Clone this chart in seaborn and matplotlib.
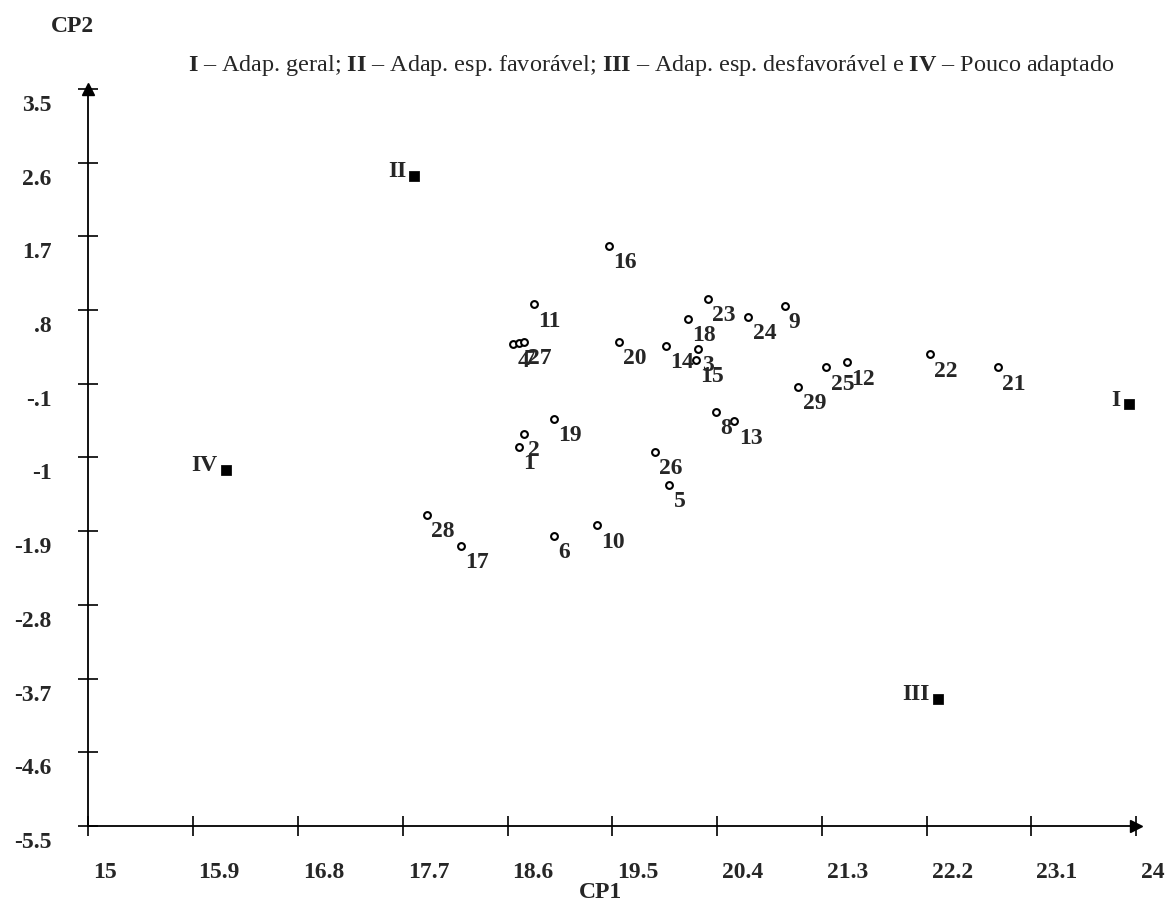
import numpy as np
import pandas as pd
import seaborn as sns
import matplotlib.pyplot as plt
from matplotlib.transforms import ScaledTranslation

# genotype scores on the two principal components
genotipos = [str(i) for i in range(1, 30)]
cp1 = [18.70, 18.74, 20.24, 18.65, 19.99, 19.00, 18.70, 20.39, 20.98, 19.37,
       18.83, 21.52, 20.55, 19.96, 20.22, 19.47, 18.20, 20.15, 19.00, 19.56,
       22.81, 22.23, 20.32, 20.67, 21.34, 19.87, 18.74, 17.91, 21.10]
cp2 = [-0.87, -0.71, 0.33, 0.38, -1.33, -1.96, 0.40, -0.44, 0.85, -1.83,
       0.87, 0.16, -0.56, 0.36, 0.19, 1.58, -2.08, 0.69, -0.53, 0.41,
       0.10, 0.26, 0.94, 0.72, 0.10, -0.93, 0.41, -1.70, -0.14]

# ideal (reference) genotypes
ideais = ['I', 'II', 'III', 'IV']
ideal_cp1 = [23.94, 17.80, 22.30, 16.18]
ideal_cp2 = [-0.35, 2.44, -3.95, -1.15]

xticks = [15, 15.9, 16.8, 17.7, 18.6, 19.5, 20.4, 21.3, 22.2, 23.1, 24]
xtick_labels = ['15', '15.9', '16.8', '17.7', '18.6', '19.5', '20.4', '21.3', '22.2', '23.1', '24']
yticks = [3.5, 2.6, 1.7, 0.8, -0.1, -1, -1.9, -2.8, -3.7, -4.6, -5.5]
ytick_labels = ['3.5', '2.6', '1.7', '.8', '-.1', '-1', '-1.9', '-2.8', '-3.7', '-4.6', '-5.5']

df = pd.DataFrame({'gen': genotipos, 'CP1': cp1, 'CP2': cp2})
df_ideal = pd.DataFrame({'gen': ideais, 'CP1': ideal_cp1, 'CP2': ideal_cp2})

sns.set_style('white')
plt.rcParams['font.family'] = ['Liberation Serif', 'DejaVu Serif']
plt.rcParams['mathtext.fontset'] = 'custom'
plt.rcParams['mathtext.rm'] = 'Liberation Serif'
plt.rcParams['mathtext.bf'] = 'Liberation Serif:bold'

fig = plt.figure(figsize=(11.69, 9.19), dpi=100)
ax = fig.add_axes([0.0757, 0.1012, 0.8961, 0.802])

sns.scatterplot(data=df, x='CP1', y='CP2', ax=ax, marker='o', s=24,
                facecolor='white', edgecolor='black', linewidth=1.5, zorder=3)
sns.scatterplot(data=df_ideal, x='CP1', y='CP2', ax=ax, marker='s', s=45,
                color='black', edgecolor='black', zorder=3)

for g, x, y in zip(df['gen'], df['CP1'], df['CP2']):
    ax.annotate(g, (x, y), xytext=(3, -16), textcoords='offset points',
                ha='left', va='baseline', fontsize=17, fontweight='bold')
for g, x, y in zip(df_ideal['gen'], df_ideal['CP1'], df_ideal['CP2']):
    ax.annotate(g, (x, y), xytext=(-6, 3), textcoords='offset points',
                ha='right', va='center', fontsize=17, fontweight='bold')

ax.set_xlim(15, 24)
ax.set_ylim(-5.5, 3.5)
ax.set_xticks(xticks)
ax.set_xticklabels(xtick_labels, fontsize=17, fontweight='bold', ha='left')
ax.set_yticks(yticks)
ax.set_yticklabels(ytick_labels, fontsize=17, fontweight='bold', va='top')
ax.tick_params(axis='both', direction='inout', length=15, width=1.2, color='black',
               bottom=True, left=True)
ax.tick_params(axis='x', pad=15)
ax.tick_params(axis='y', pad=19)
for lab in ax.get_xticklabels():
    lab.set_transform(lab.get_transform() + ScaledTranslation(0.05, -0.05, fig.dpi_scale_trans))
for lab in ax.get_yticklabels():
    lab.set_transform(lab.get_transform() + ScaledTranslation(0, -0.06, fig.dpi_scale_trans))
ax.set_xlabel('')
ax.set_ylabel('')

for side in ['top', 'right']:
    ax.spines[side].set_visible(False)
for side in ['left', 'bottom']:
    ax.spines[side].set_linewidth(1.3)
    ax.spines[side].set_color('black')

ax.plot(0, 1, marker='^', ms=8, color='black', transform=ax.transAxes, clip_on=False)
ax.plot(1, 0, marker='>', ms=8, color='black', transform=ax.transAxes, clip_on=False)

fig.text(72 / 1169, 1 - 26 / 919, 'CP2', ha='center', va='center', fontsize=17, fontweight='bold')
fig.text(600 / 1169, 1 - 893 / 919, 'CP1', ha='center', va='center', fontsize=17, fontweight='bold')

legenda = (r'$\mathbf{I}$ – Adap. geral; $\mathbf{II}$ – Adap. esp. favorável; '
           r'$\mathbf{III}$ – Adap. esp. desfavorável e $\mathbf{IV}$ – Pouco adaptado')
fig.text(188 / 1169, 1 - 66 / 919, legenda, ha='left', va='center', fontsize=17.4)

fig.savefig('out.png', dpi=100)
